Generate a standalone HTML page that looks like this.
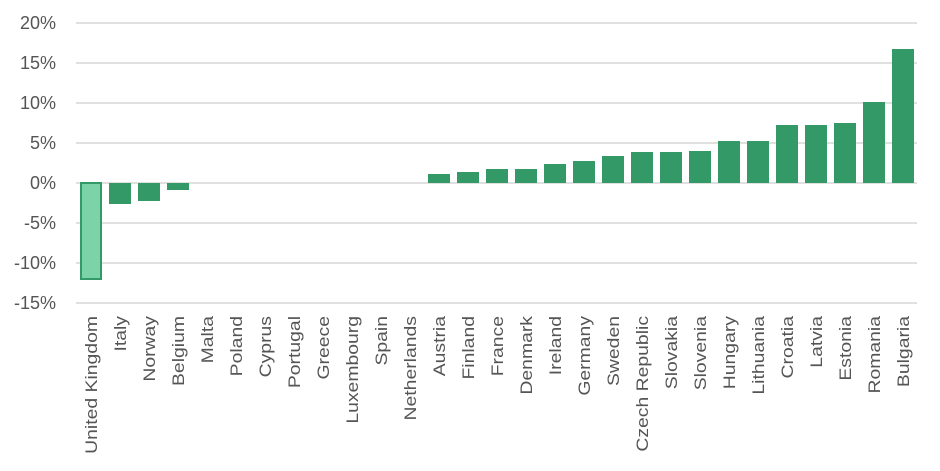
<!DOCTYPE html>
<html><head><meta charset="utf-8"><style>body{margin:0;background:#fff}svg{display:block}</style></head>
<body>
<svg width="940" height="471" xmlns="http://www.w3.org/2000/svg" font-family="Liberation Sans, sans-serif">
<g stroke="#d6d6d6" stroke-width="1.5">
<line x1="76" x2="917" y1="23" y2="23"/><line x1="76" x2="917" y1="63" y2="63"/><line x1="76" x2="917" y1="103" y2="103"/><line x1="76" x2="917" y1="143" y2="143"/><line x1="76" x2="917" y1="183" y2="183"/><line x1="76" x2="917" y1="223" y2="223"/><line x1="76" x2="917" y1="263" y2="263"/><line x1="76" x2="917" y1="303" y2="303"/>
</g>
<g fill="#555" font-size="18" text-anchor="end">
<text x="56" y="29">20%</text><text x="56" y="69">15%</text><text x="56" y="109">10%</text><text x="56" y="149">5%</text><text x="56" y="189">0%</text><text x="56" y="229">-5%</text><text x="56" y="269">-10%</text><text x="56" y="309">-15%</text>
</g>
<rect x="81" y="183" width="20" height="96" fill="#7dd3a8" stroke="#339966" stroke-width="2"/>
<g fill="#339966">
<rect x="109" y="183" width="22" height="21"/>
<rect x="138" y="183" width="22" height="18"/>
<rect x="167" y="183" width="22" height="7"/>
<rect x="428" y="174" width="22" height="9"/>
<rect x="457" y="172" width="22" height="11"/>
<rect x="486" y="169" width="22" height="14"/>
<rect x="515" y="169" width="22" height="14"/>
<rect x="544" y="164" width="22" height="19"/>
<rect x="573" y="161" width="22" height="22"/>
<rect x="602" y="156" width="22" height="27"/>
<rect x="631" y="152" width="22" height="31"/>
<rect x="660" y="152" width="22" height="31"/>
<rect x="689" y="151" width="22" height="32"/>
<rect x="718" y="141" width="22" height="42"/>
<rect x="747" y="141" width="22" height="42"/>
<rect x="776" y="125" width="22" height="58"/>
<rect x="805" y="125" width="22" height="58"/>
<rect x="834" y="123" width="22" height="60"/>
<rect x="863" y="102" width="22" height="81"/>
<rect x="892" y="49" width="22" height="134"/>
</g>
<g fill="#555" font-size="17" text-anchor="end">
<text transform="translate(97,316) rotate(-90) scale(1.14,1)">United Kingdom</text>
<text transform="translate(126,316) rotate(-90) scale(1.14,1)">Italy</text>
<text transform="translate(155,316) rotate(-90) scale(1.14,1)">Norway</text>
<text transform="translate(184,316) rotate(-90) scale(1.14,1)">Belgium</text>
<text transform="translate(213,316) rotate(-90) scale(1.14,1)">Malta</text>
<text transform="translate(242,316) rotate(-90) scale(1.14,1)">Poland</text>
<text transform="translate(271,316) rotate(-90) scale(1.14,1)">Cyprus</text>
<text transform="translate(300,316) rotate(-90) scale(1.14,1)">Portugal</text>
<text transform="translate(329,316) rotate(-90) scale(1.14,1)">Greece</text>
<text transform="translate(358,316) rotate(-90) scale(1.14,1)">Luxembourg</text>
<text transform="translate(387,316) rotate(-90) scale(1.14,1)">Spain</text>
<text transform="translate(416,316) rotate(-90) scale(1.14,1)">Netherlands</text>
<text transform="translate(445,316) rotate(-90) scale(1.14,1)">Austria</text>
<text transform="translate(474,316) rotate(-90) scale(1.14,1)">Finland</text>
<text transform="translate(503,316) rotate(-90) scale(1.14,1)">France</text>
<text transform="translate(532,316) rotate(-90) scale(1.14,1)">Denmark</text>
<text transform="translate(561,316) rotate(-90) scale(1.14,1)">Ireland</text>
<text transform="translate(590,316) rotate(-90) scale(1.14,1)">Germany</text>
<text transform="translate(619,316) rotate(-90) scale(1.14,1)">Sweden</text>
<text transform="translate(648,316) rotate(-90) scale(1.14,1)">Czech Republic</text>
<text transform="translate(677,316) rotate(-90) scale(1.14,1)">Slovakia</text>
<text transform="translate(706,316) rotate(-90) scale(1.14,1)">Slovenia</text>
<text transform="translate(735,316) rotate(-90) scale(1.14,1)">Hungary</text>
<text transform="translate(764,316) rotate(-90) scale(1.14,1)">Lithuania</text>
<text transform="translate(793,316) rotate(-90) scale(1.14,1)">Croatia</text>
<text transform="translate(822,316) rotate(-90) scale(1.14,1)">Latvia</text>
<text transform="translate(851,316) rotate(-90) scale(1.14,1)">Estonia</text>
<text transform="translate(880,316) rotate(-90) scale(1.14,1)">Romania</text>
<text transform="translate(909,316) rotate(-90) scale(1.14,1)">Bulgaria</text>
</g>
</svg>
</body></html>
